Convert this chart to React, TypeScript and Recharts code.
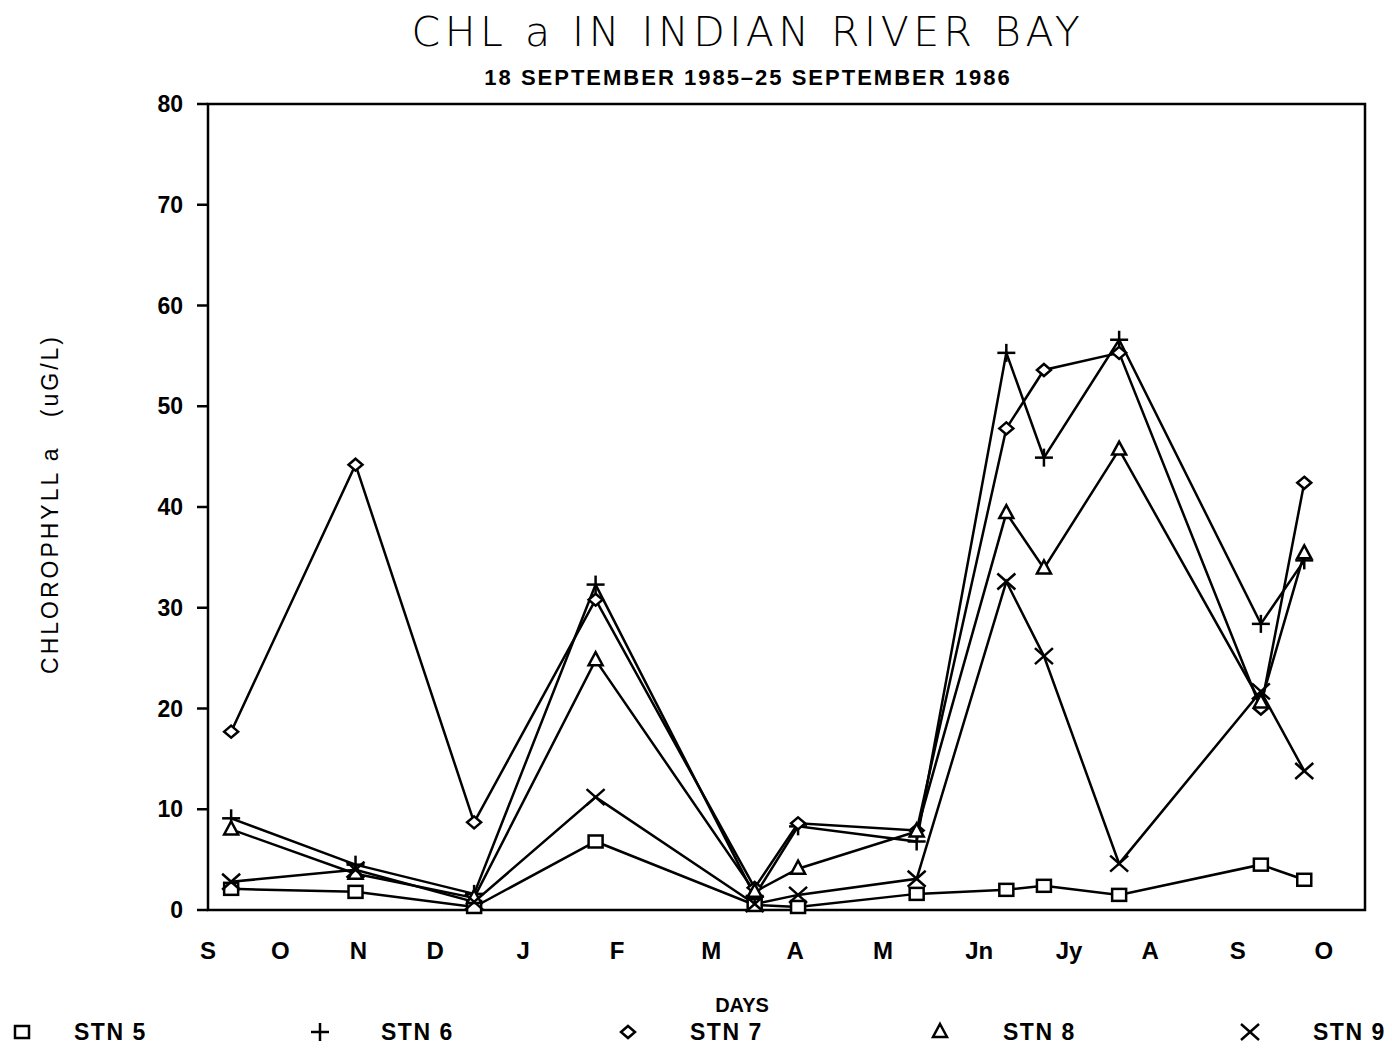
import React from "react";
import { LineChart, Line, XAxis, YAxis, ReferenceArea } from "recharts";

// sample days (x scale in days from left edge of plot)
const DAYS = [8, 51, 92, 134, 189, 204, 245, 276, 289, 315, 364, 379];

const STN5 = [2.1, 1.8, 0.3, 6.8, 0.5, 0.3, 1.6, 2.0, 2.4, 1.5, 4.5, 3.0];
const STN6 = [9.1, 4.5, 1.6, 32.3, 1.4, 8.3, 6.8, 55.3, 44.9, 56.6, 28.4, 34.7];
const STN7 = [17.7, 44.2, 8.7, 30.8, 2.2, 8.6, 7.9, 47.8, 53.6, 55.3, 20.0, 42.4];
const STN8 = [8.0, 3.6, 1.2, 24.8, 1.8, 4.1, 7.8, 39.4, 33.9, 45.7, 20.6, 35.4];
const STN9 = [2.8, 4.0, 0.8, 11.2, 0.6, 1.5, 3.1, 32.6, 25.2, 4.6, 21.7, 13.8];

const MONTH_TICKS = [0, 25, 52, 78.5, 109, 141.4, 174, 203, 233.4, 266.6, 297.7, 325.7, 356, 385.8];
const MONTH_LABELS = ["S", "O", "N", "D", "J", "F", "M", "A", "M", "Jn", "Jy", "A", "S", "O"];

const Y_TICKS = [0, 10, 20, 30, 40, 50, 60, 70, 80];

const data = DAYS.map((d, i) => ({
  day: d,
  stn5: STN5[i],
  stn6: STN6[i],
  stn7: STN7[i],
  stn8: STN8[i],
  stn9: STN9[i],
}));

type Kind = "square" | "plus" | "diamond" | "triangle" | "x";

function Marker({ kind, cx, cy }: { kind: Kind; cx: number; cy: number }) {
  const s = { stroke: "#000", strokeWidth: 2.5, fill: "#fff" };
  switch (kind) {
    case "square":
      return <rect x={cx - 7} y={cy - 6} width={14} height={12} {...s} />;
    case "plus":
      return (
        <g stroke="#000" strokeWidth={2.5}>
          <line x1={cx - 9} y1={cy} x2={cx + 9} y2={cy} />
          <line x1={cx} y1={cy - 9} x2={cx} y2={cy + 9} />
        </g>
      );
    case "diamond":
      return <polygon points={`${cx},${cy - 6} ${cx + 7},${cy} ${cx},${cy + 6} ${cx - 7},${cy}`} {...s} />;
    case "triangle":
      return <polygon points={`${cx},${cy - 8} ${cx + 7},${cy + 5} ${cx - 7},${cy + 5}`} {...s} />;
    default:
      return (
        <g stroke="#000" strokeWidth={2.5}>
          <line x1={cx - 9} y1={cy - 8} x2={cx + 9} y2={cy + 8} />
          <line x1={cx - 9} y1={cy + 8} x2={cx + 9} y2={cy - 8} />
        </g>
      );
  }
}

const dotFor = (kind: Kind) => (p: any) => (
  <Marker key={`${kind}-${p.index}`} kind={kind} cx={p.cx} cy={p.cy} />
);

const bold = { fontFamily: "Liberation Sans, Arial, sans-serif", fontWeight: 700 };

const LEGEND: { kind: Kind; label: string; sx: number; tx: number }[] = [
  { kind: "square", label: "STN 5", sx: 22, tx: 74 },
  { kind: "plus", label: "STN 6", sx: 320, tx: 381 },
  { kind: "diamond", label: "STN 7", sx: 628, tx: 690 },
  { kind: "triangle", label: "STN 8", sx: 940, tx: 1003 },
  { kind: "x", label: "STN 9", sx: 1250, tx: 1313 },
];

export default function App() {
  return (
    <div style={{ position: "absolute", left: 0, top: 0, width: 1392, height: 1049, background: "#fff" }}>
      <div
        style={{
          position: "absolute", left: 0, width: 1496, top: 8, textAlign: "center",
          fontFamily: "DejaVu Sans, Liberation Sans, sans-serif", fontSize: 41, fontWeight: 200, letterSpacing: 4.5,
        }}
      >
        CHL a IN INDIAN RIVER BAY
      </div>
      <div style={{ ...bold, position: "absolute", left: 0, width: 1496, top: 65, textAlign: "center", fontSize: 22, letterSpacing: 2 }}>
        18 SEPTEMBER 1985–25 SEPTEMBER 1986
      </div>
      <LineChart width={1392} height={1049} data={data} margin={{ top: 104, right: 27, left: 148, bottom: 99 }}>
        <XAxis
          dataKey="day"
          type="number"
          domain={[0, 400]}
          ticks={MONTH_TICKS}
          tickFormatter={(v: number) => MONTH_LABELS[MONTH_TICKS.indexOf(v)] ?? ""}
          tickLine={false}
          axisLine={false}
          height={40}
          tickMargin={26}
          tick={{ fill: "#000", fontSize: 24, ...bold }}
          interval={0}
        />
        <YAxis
          type="number"
          domain={[0, 80]}
          ticks={Y_TICKS}
          width={60}
          tickSize={11}
          tickMargin={14}
          axisLine={false}
          tickLine={{ stroke: "#000", strokeWidth: 2.5 }}
          tick={{ fill: "#000", fontSize: 23, ...bold }}
          label={{
            value: "CHLOROPHYLL a\u00a0\u00a0\u00a0(uG/L)",
            angle: -90,
            position: "center",
            dx: -128,
            dy: -3,
            style: { fill: "#000", fontSize: 23, fontFamily: "Liberation Sans, Arial, sans-serif", letterSpacing: 3 },
          }}
        />
        <ReferenceArea x1={0} x2={400} y1={0} y2={80} fill="none" stroke="#000" strokeWidth={2.5} ifOverflow="visible" />
        <Line dataKey="stn5" stroke="#000" strokeWidth={2.5} dot={dotFor("square")} isAnimationActive={false} />
        <Line dataKey="stn6" stroke="#000" strokeWidth={2.5} dot={dotFor("plus")} isAnimationActive={false} />
        <Line dataKey="stn7" stroke="#000" strokeWidth={2.5} dot={dotFor("diamond")} isAnimationActive={false} />
        <Line dataKey="stn8" stroke="#000" strokeWidth={2.5} dot={dotFor("triangle")} isAnimationActive={false} />
        <Line dataKey="stn9" stroke="#000" strokeWidth={2.5} dot={dotFor("x")} isAnimationActive={false} />
      </LineChart>
      <div style={{ ...bold, position: "absolute", left: 690, width: 104, top: 994, textAlign: "center", fontSize: 20, lineHeight: "22px" }}>
        DAYS
      </div>
      {LEGEND.map((l) => (
        <React.Fragment key={l.label}>
          <svg style={{ position: "absolute", left: l.sx - 12, top: 1020 }} width={24} height={24}>
            <Marker kind={l.kind} cx={12} cy={12} />
          </svg>
          <div style={{ ...bold, position: "absolute", left: l.tx, top: 1019, fontSize: 23, lineHeight: "26px", letterSpacing: 1.5 }}>
            {l.label}
          </div>
        </React.Fragment>
      ))}
    </div>
  );
}
